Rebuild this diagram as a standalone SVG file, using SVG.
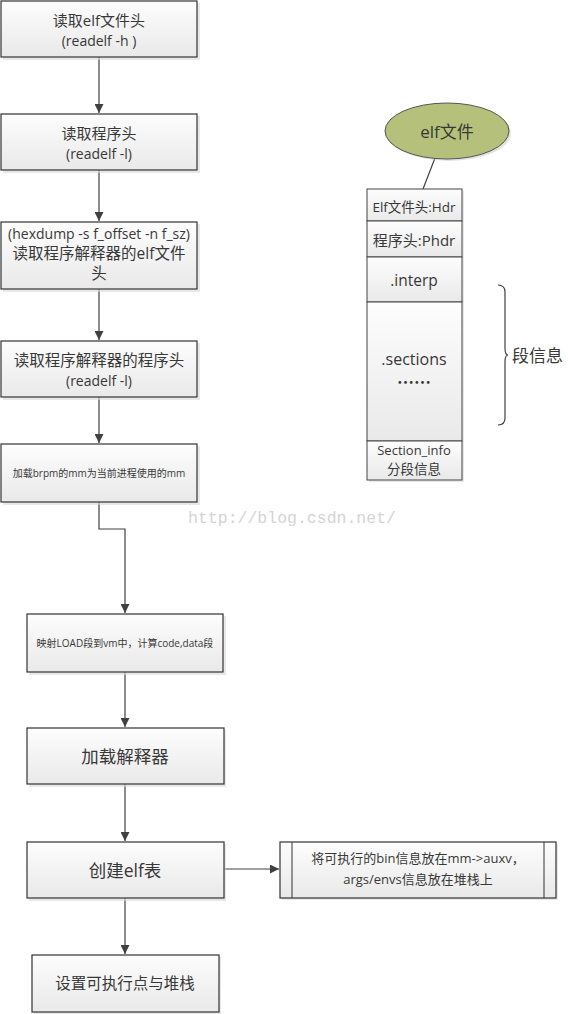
<svg xmlns="http://www.w3.org/2000/svg" width="568" height="1014" viewBox="0 0 568 1014">
<style>
.box{fill:url(#g);stroke:#333;stroke-width:1.2}
.sh{fill:#d8d8d8;opacity:.6}
.t{font-family:"Open Sans","Noto Sans CJK SC",sans-serif;fill:#383838;text-anchor:middle;dominant-baseline:central}
.c{fill:none;stroke:#404040;stroke-width:1.2}
.cell{fill:url(#g);stroke:#444;stroke-width:1}
</style>
<defs>
<linearGradient id="g" x1="0" y1="0" x2="0" y2="1"><stop offset="0" stop-color="#fdfdfd"/><stop offset="1" stop-color="#e9e9e9"/></linearGradient>
<marker id="a" viewBox="0 0 10 10" refX="10" refY="5" markerWidth="9" markerHeight="9" markerUnits="userSpaceOnUse" orient="auto"><path d="M0,0L10,5L0,10z" fill="#404040"/></marker>
</defs>
<rect width="568" height="1014" fill="#fff"/>
<text x="292" y="518" font-family="Liberation Mono,monospace" font-size="16.5" fill="#d4d4d4" text-anchor="middle" dominant-baseline="central">http://blog.csdn.net/</text>
<g id="connectors">
<path class="c" d="M99,57V113" marker-end="url(#a)"/>
<path class="c" d="M99,170V221" marker-end="url(#a)"/>
<path class="c" d="M99,289V340" marker-end="url(#a)"/>
<path class="c" d="M99,397V443" marker-end="url(#a)"/>
<path class="c" d="M99,502V529H125V613" marker-end="url(#a)"/>
<path class="c" d="M125,672V727" marker-end="url(#a)"/>
<path class="c" d="M125,784V841" marker-end="url(#a)"/>
<path class="c" d="M125,898V954" marker-end="url(#a)"/>
<path class="c" d="M224,869H279" marker-end="url(#a)"/>
<path class="c" d="M435,158L423,189" stroke-width="1"/>
<path class="c" d="M498,285Q505,285 505,292V348Q505,355 508,355Q505,355 505,362V418Q505,425 498,425" stroke-width="1"/>
</g>
<g id="n1"><rect class="sh" x="3" y="3" width="197" height="57"/><rect class="box" x="1" y="1" width="196" height="56"/>
<text class="t" x="99" y="20" font-size="15">读取elf文件头</text><text class="t" x="99" y="40" font-size="14">(readelf -h )</text></g>
<g id="n2"><rect class="sh" x="3" y="116" width="197" height="57"/><rect class="box" x="1" y="114" width="196" height="56"/>
<text class="t" x="99" y="133" font-size="15">读取程序头</text><text class="t" x="99" y="153" font-size="14">(readelf -l)</text></g>
<g id="n3"><rect class="sh" x="3" y="224" width="197" height="68"/><rect class="box" x="1" y="222" width="196" height="67"/>
<text class="t" x="99" y="233" font-size="14">(hexdump -s f_offset -n f_sz)</text><text class="t" x="99" y="253" font-size="15.5">读取程序解释器的elf文件</text><text class="t" x="99" y="273" font-size="15.5">头</text></g>
<g id="n4"><rect class="sh" x="3" y="343" width="197" height="57"/><rect class="box" x="1" y="341" width="196" height="56"/>
<text class="t" x="99" y="360" font-size="15.5">读取程序解释器的程序头</text><text class="t" x="99" y="380" font-size="14">(readelf -l)</text></g>
<g id="n5"><rect class="sh" x="3" y="446" width="197" height="59"/><rect class="box" x="1" y="444" width="196" height="58"/>
<text class="t" x="99" y="473" font-size="10">加载brpm的mm为当前进程使用的mm</text></g>
<g id="n6"><rect class="sh" x="29" y="616" width="197" height="59"/><rect class="box" x="27" y="614" width="196" height="58"/>
<text class="t" x="125" y="643" font-size="10">映射LOAD段到vm中，计算code,data段</text></g>
<g id="n7"><rect class="sh" x="29" y="730" width="197" height="57"/><rect class="box" x="27" y="728" width="197" height="56"/>
<text class="t" x="125" y="756" font-size="17.5">加载解释器</text></g>
<g id="n8"><rect class="sh" x="29" y="844" width="197" height="57"/><rect class="box" x="27" y="842" width="197" height="56"/>
<text class="t" x="125" y="870" font-size="17.5">创建elf表</text></g>
<g id="n9"><rect class="sh" x="34" y="957" width="187" height="57"/><rect class="box" x="32" y="955" width="187" height="57"/>
<text class="t" x="125" y="983" font-size="15.5">设置可执行点与堆栈</text></g>
<g id="n10"><rect class="sh" x="282" y="844" width="276" height="56"/><rect class="box" x="280" y="842" width="276" height="56"/>
<path d="M292,842V898M544,842V898" stroke="#333" stroke-width="1"/>
<text class="t" x="418" y="858" font-size="13">将可执行的bin信息放在mm-&gt;auxv，</text><text class="t" x="418" y="879" font-size="13">args/envs信息放在堆栈上</text></g>
<g id="n11"><ellipse cx="449" cy="133" rx="62" ry="28" fill="#c8c8c0" opacity=".5"/><ellipse cx="447" cy="131" rx="62" ry="28" fill="#b5c17b" stroke="#555" stroke-width="1"/>
<text class="t" x="447" y="131" font-size="17">elf文件</text></g>
<g id="n12">
<rect class="sh" x="369" y="191" width="95" height="291"/>
<rect class="cell" x="367" y="189" width="95" height="32"/>
<rect class="cell" x="367" y="221" width="95" height="36"/>
<rect class="cell" x="367" y="257" width="95" height="45"/>
<rect class="cell" x="367" y="302" width="95" height="139"/>
<rect class="cell" x="367" y="441" width="95" height="39"/>
<text class="t" x="414" y="207" font-size="13.5">Elf文件头:Hdr</text>
<text class="t" x="414" y="240" font-size="15">程序头:Phdr</text>
<text class="t" x="414" y="280" font-size="15.5">.interp</text>
<text class="t" x="414" y="359" font-size="16">.sections</text>
<text class="t" x="414" y="381" font-size="17" style="font-family:'Noto Sans CJK SC',sans-serif;font-weight:bold">……</text>
<text class="t" x="414" y="450" font-size="13">Section_info</text>
<text class="t" x="414" y="469" font-size="13.5">分段信息</text>
</g>
<g id="n13"><text class="t" x="512" y="355" font-size="17" style="text-anchor:start">段信息</text></g>
</svg>
